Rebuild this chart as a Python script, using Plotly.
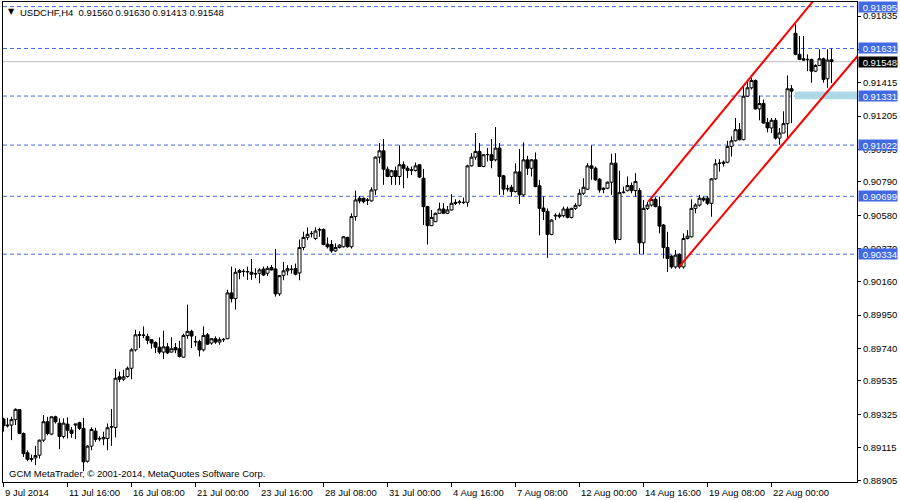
import plotly.graph_objects as go

# ---------------- data (USDCHF, H4) ----------------
opens = [0.89295,0.89257,0.89257,0.89291,0.89354,0.89204,0.89082,0.89046,0.89050,0.89067,
0.89162,0.89278,0.89200,0.89309,0.89269,0.89185,0.89263,0.89225,0.89257,0.89272,
0.89236,0.89029,0.89124,0.89219,0.89172,0.89170,0.89172,0.89244,0.89242,0.89561,
0.89546,0.89563,0.89615,0.89731,0.89826,0.89822,0.89816,0.89795,0.89778,0.89748,
0.89717,0.89750,0.89717,0.89746,0.89738,0.89685,0.89822,0.89848,0.89784,0.89784,
0.89731,0.89826,0.89774,0.89801,0.89780,0.89795,0.89801,0.90090,0.90054,0.90231,
0.90224,0.90222,0.90220,0.90212,0.90214,0.90241,0.90214,0.90250,0.90241,0.90084,
0.90201,0.90229,0.90237,0.90243,0.90216,0.90376,0.90440,0.90463,0.90433,0.90486,
0.90490,0.90397,0.90395,0.90355,0.90376,0.90381,0.90440,0.90381,0.90571,0.90687,
0.90687,0.90676,0.90670,0.90739,0.90946,0.90986,0.90870,0.90824,0.90860,0.90824,
0.90898,0.90876,0.90866,0.90862,0.90898,0.90813,0.90634,0.90514,0.90539,0.90592,
0.90619,0.90592,0.90613,0.90661,0.90661,0.90659,0.90661,0.90891,0.90946,0.90982,
0.90887,0.90961,0.90961,0.90929,0.91003,0.90828,0.90748,0.90756,0.90729,0.90853,
0.90708,0.90929,0.90876,0.90929,0.90765,0.90625,0.90604,0.90459,0.90575,0.90571,
0.90577,0.90619,0.90566,0.90623,0.90642,0.90718,0.90744,0.90891,0.90876,0.90807,
0.90750,0.90750,0.90788,0.90908,0.90427,0.90722,0.90735,0.90767,0.90735,0.90735,
0.90406,0.90623,0.90644,0.90680,0.90634,0.90518,0.90376,0.90322,0.90254,0.90334,
0.90254,0.90433,0.90444,0.90623,0.90644,0.90687,0.90687,0.90655,0.90809,0.90906,
0.90914,0.90914,0.91014,0.91049,0.91119,0.91056,0.91330,0.91383,0.91429,0.91250,
0.91284,0.91165,0.91130,0.91178,0.91066,0.91098,0.91157,0.91377,0.91727,0.91594,
0.91566,0.91560,0.91562,0.91488,0.91524,0.91566,0.91440,0.91560]
highs = [0.89303,0.89303,0.89309,0.89362,0.89358,0.89210,0.89098,0.89071,0.89126,0.89165,
0.89320,0.89309,0.89312,0.89316,0.89299,0.89299,0.89305,0.89244,0.89265,0.89278,
0.89303,0.89130,0.89242,0.89240,0.89187,0.89215,0.89267,0.89358,0.89611,0.89594,
0.89605,0.89626,0.89742,0.89858,0.89848,0.89879,0.89833,0.89797,0.89784,0.89810,
0.89852,0.89774,0.89810,0.89774,0.89788,0.89833,0.90016,0.89858,0.89818,0.89795,
0.89879,0.89837,0.89805,0.89816,0.89810,0.89805,0.90110,0.90256,0.90245,0.90241,
0.90241,0.90256,0.90304,0.90245,0.90245,0.90256,0.90260,0.90266,0.90367,0.90203,
0.90286,0.90265,0.90265,0.90275,0.90427,0.90476,0.90503,0.90480,0.90503,0.90501,
0.90497,0.90440,0.90423,0.90402,0.90397,0.90448,0.90444,0.90592,0.90735,0.90701,
0.90691,0.90687,0.90756,0.90950,0.91035,0.91060,0.90887,0.90866,0.90887,0.91020,
0.90919,0.90891,0.90887,0.90912,0.90902,0.90872,0.90638,0.90613,0.90596,0.90659,
0.90655,0.90638,0.90712,0.90680,0.90676,0.90691,0.90898,0.90971,0.91098,0.91035,
0.90965,0.91003,0.91060,0.91136,0.91035,0.90834,0.90771,0.90771,0.90908,0.90997,
0.91039,0.90954,0.90933,0.90976,0.90803,0.90697,0.90623,0.90554,0.90592,0.90596,
0.90634,0.90634,0.90627,0.90655,0.90744,0.90813,0.90908,0.91020,0.90887,0.90813,
0.90756,0.90792,0.90967,0.90971,0.90860,0.90760,0.90824,0.90786,0.90845,0.90750,
0.90676,0.90665,0.90697,0.90693,0.90697,0.90524,0.90475,0.90328,0.90360,0.90338,
0.90465,0.90486,0.90680,0.90655,0.90708,0.90697,0.90701,0.90813,0.90933,0.90933,
0.90925,0.91049,0.91077,0.91193,0.91161,0.91389,0.91425,0.91446,0.91436,0.91334,
0.91309,0.91193,0.91193,0.91193,0.91130,0.91235,0.91461,0.91400,0.91784,0.91710,
0.91710,0.91594,0.91566,0.91531,0.91626,0.91573,0.91626,0.91630]
lows = [0.89215,0.89242,0.89162,0.89257,0.89200,0.89056,0.89029,0.89025,0.89004,0.89046,
0.89151,0.89193,0.89193,0.89267,0.89105,0.89172,0.89172,0.89177,0.89168,0.89225,
0.88966,0.89020,0.89098,0.89151,0.89155,0.89130,0.89098,0.89126,0.89179,0.89527,
0.89535,0.89556,0.89546,0.89721,0.89742,0.89805,0.89767,0.89738,0.89710,0.89704,
0.89674,0.89704,0.89715,0.89710,0.89683,0.89683,0.89801,0.89742,0.89753,0.89689,
0.89721,0.89763,0.89763,0.89769,0.89763,0.89780,0.89799,0.90030,0.89985,0.90176,
0.90193,0.90172,0.90172,0.90183,0.90151,0.90197,0.90197,0.90231,0.90067,0.90071,
0.90170,0.90201,0.90212,0.90201,0.90170,0.90359,0.90423,0.90440,0.90423,0.90444,
0.90391,0.90370,0.90343,0.90349,0.90370,0.90376,0.90376,0.90370,0.90545,0.90655,
0.90655,0.90644,0.90665,0.90708,0.90908,0.90771,0.90820,0.90771,0.90771,0.90771,
0.90750,0.90813,0.90834,0.90855,0.90813,0.90518,0.90395,0.90511,0.90537,0.90590,
0.90587,0.90587,0.90609,0.90644,0.90648,0.90651,0.90634,0.90887,0.90929,0.90885,
0.90883,0.90919,0.90876,0.90919,0.90708,0.90708,0.90729,0.90697,0.90722,0.90651,
0.90697,0.90834,0.90824,0.90756,0.90454,0.90549,0.90311,0.90454,0.90549,0.90560,
0.90566,0.90560,0.90560,0.90613,0.90634,0.90708,0.90739,0.90803,0.90798,0.90722,
0.90718,0.90744,0.90708,0.90402,0.90423,0.90718,0.90729,0.90718,0.90697,0.90334,
0.90334,0.90613,0.90634,0.90630,0.90465,0.90307,0.90222,0.90243,0.90243,0.90243,
0.90243,0.90427,0.90440,0.90592,0.90634,0.90665,0.90644,0.90570,0.90803,0.90855,
0.90887,0.90908,0.90950,0.91045,0.91052,0.91052,0.91326,0.91372,0.91246,0.91178,
0.91157,0.91102,0.91098,0.91056,0.91024,0.91098,0.91056,0.91160,0.91588,0.91558,
0.91552,0.91488,0.91415,0.91482,0.91520,0.91415,0.91383,0.91413]
closes = [0.89253,0.89253,0.89291,0.89356,0.89204,0.89077,0.89041,0.89041,0.89065,0.89162,
0.89278,0.89204,0.89309,0.89278,0.89185,0.89269,0.89225,0.89204,0.89263,0.89236,
0.89025,0.89124,0.89229,0.89166,0.89170,0.89179,0.89240,0.89246,0.89552,0.89546,
0.89561,0.89615,0.89731,0.89826,0.89824,0.89824,0.89791,0.89774,0.89748,0.89717,
0.89750,0.89712,0.89738,0.89731,0.89689,0.89822,0.89848,0.89818,0.89782,0.89731,
0.89822,0.89767,0.89801,0.89780,0.89795,0.89797,0.90090,0.90054,0.90220,0.90220,
0.90226,0.90225,0.90208,0.90210,0.90235,0.90203,0.90245,0.90235,0.90084,0.90199,
0.90229,0.90243,0.90239,0.90208,0.90376,0.90440,0.90459,0.90465,0.90480,0.90490,
0.90395,0.90381,0.90355,0.90376,0.90391,0.90444,0.90381,0.90571,0.90676,0.90670,
0.90665,0.90674,0.90739,0.90946,0.90986,0.90870,0.90824,0.90860,0.90824,0.90898,
0.90876,0.90862,0.90864,0.90891,0.90820,0.90634,0.90514,0.90566,0.90592,0.90619,
0.90592,0.90613,0.90655,0.90655,0.90663,0.90661,0.90891,0.90946,0.90982,0.90887,
0.90961,0.90963,0.90925,0.91003,0.90824,0.90744,0.90746,0.90729,0.90853,0.90708,
0.90929,0.90876,0.90929,0.90760,0.90623,0.90604,0.90459,0.90549,0.90579,0.90581,
0.90619,0.90566,0.90623,0.90642,0.90718,0.90756,0.90891,0.90876,0.90803,0.90739,
0.90744,0.90788,0.90908,0.90427,0.90722,0.90725,0.90767,0.90735,0.90792,0.90406,
0.90623,0.90644,0.90680,0.90634,0.90511,0.90376,0.90307,0.90254,0.90328,0.90254,
0.90433,0.90448,0.90623,0.90644,0.90687,0.90676,0.90655,0.90809,0.90904,0.90908,
0.90908,0.91014,0.91049,0.91119,0.91056,0.91330,0.91383,0.91429,0.91250,0.91284,
0.91161,0.91130,0.91178,0.91066,0.91098,0.91157,0.91377,0.91362,0.91594,0.91562,
0.91558,0.91562,0.91488,0.91524,0.91566,0.91436,0.91558,0.91548]
bars = list(range(len(closes)))

date_ticks = [0, 16, 32, 48, 64, 80, 96, 112, 128, 144, 160, 176, 192]
date_labels = ["9 Jul 2014", "11 Jul 16:00", "16 Jul 08:00", "21 Jul 00:00", "23 Jul 16:00",
               "28 Jul 08:00", "31 Jul 00:00", "4 Aug 16:00", "7 Aug 08:00", "12 Aug 00:00",
               "14 Aug 16:00", "19 Aug 08:00", "22 Aug 00:00"]
price_ticks = [0.91835, 0.91625, 0.91415, 0.91205, 0.90995, 0.90790, 0.90580, 0.90370,
               0.90160, 0.89950, 0.89740, 0.89535, 0.89325, 0.89115, 0.88905]
levels = [0.91895, 0.91631, 0.91331, 0.91022, 0.90699, 0.90334]
bid = 0.91548
zone_x = [197.9, 213.4]
zone_y = [0.91311, 0.91359]
upper_x = [161.2, 206.0]
upper_y = [0.90665, 0.92040]
lower_x = [168.95, 216.0]
lower_y = [0.90256, 0.91658]

FONT = "Liberation Sans, Arial, sans-serif"
FS = 9.5
BLUE = "#4169E1"

fig = go.Figure()
fig.add_trace(go.Candlestick(
    x=bars, open=opens, high=highs, low=lows, close=closes,
    increasing=dict(line=dict(color="black", width=1), fillcolor="white"),
    decreasing=dict(line=dict(color="black", width=1), fillcolor="black"),
    whiskerwidth=0, showlegend=False, hoverinfo="skip"))
fig.add_trace(go.Scatter(x=upper_x, y=upper_y, mode="lines",
                         line=dict(color="red", width=2), showlegend=False, hoverinfo="skip"))
fig.add_trace(go.Scatter(x=lower_x, y=lower_y, mode="lines",
                         line=dict(color="red", width=2), showlegend=False, hoverinfo="skip"))

shapes = []
for lv in levels:
    shapes.append(dict(type="line", xref="paper", x0=0, x1=1, yref="y", y0=lv, y1=lv,
                       line=dict(color=BLUE, width=1, dash="4px,3px"), layer="below"))
shapes.append(dict(type="line", xref="paper", x0=0, x1=1, yref="y", y0=bid, y1=bid,
                   line=dict(color="#C0C0C0", width=1), layer="below"))
shapes.append(dict(type="rect", xref="x", x0=zone_x[0], x1=zone_x[1], yref="y",
                   y0=zone_y[0], y1=zone_y[1], fillcolor="#ADD8E6",
                   line=dict(width=0), layer="below"))

annotations = []
for lv in levels:
    annotations.append(dict(xref="paper", x=1, xanchor="left", xshift=1, yref="y", y=lv,
                            yanchor="middle", text=f"{lv:.5f}", showarrow=False,
                            bgcolor=BLUE, font=dict(color="white", size=FS, family=FONT),
                            width=38, height=10, align="right", borderpad=0))
annotations.append(dict(xref="paper", x=1, xanchor="left", xshift=1, yref="y", y=bid,
                        yanchor="middle", text=f"{bid:.5f}", showarrow=False,
                        bgcolor="black", font=dict(color="white", size=FS, family=FONT),
                        width=38, height=10, align="right", borderpad=0))
for t, lab in zip(date_ticks, date_labels):
    annotations.append(dict(xref="x", x=t, xanchor="left", xshift=-1, yref="paper", y=0,
                            yanchor="top", yshift=-3, text=lab, showarrow=False,
                            font=dict(color="black", size=FS, family=FONT)))
annotations.append(dict(xref="paper", x=0, xanchor="left", xshift=3, yref="paper", y=1,
                        yanchor="top", yshift=-3, text="▼", showarrow=False,
                        font=dict(color="black", size=8, family="DejaVu Sans")))
annotations.append(dict(xref="paper", x=0, xanchor="left", xshift=15, yref="paper", y=1,
                        yanchor="top", yshift=-3,
                        text=f"USDCHF,H4  {opens[-1]:.5f} {highs[-1]:.5f} {lows[-1]:.5f} {closes[-1]:.5f}",
                        showarrow=False, font=dict(color="black", size=FS, family=FONT)))
annotations.append(dict(xref="paper", x=0, xanchor="left", xshift=4, yref="paper", y=0,
                        yanchor="bottom", yshift=1,
                        text="GCM MetaTrader, © 2001-2014, MetaQuotes Software Corp.",
                        showarrow=False, font=dict(color="black", size=FS, family=FONT)))

fig.update_layout(
    width=900, height=500, margin=dict(l=3, r=43, t=2, b=18),
    paper_bgcolor="white", plot_bgcolor="white",
    boxgap=0.25, boxgroupgap=0,
    shapes=shapes, annotations=annotations, showlegend=False,
    font=dict(family=FONT, size=FS, color="black"),
    xaxis=dict(range=[-0.125, 213.375], showgrid=False, zeroline=False,
               rangeslider=dict(visible=False), showline=True, linecolor="black",
               linewidth=1, mirror=True, tickvals=date_ticks, ticks="outside",
               ticklen=4, tickcolor="black", showticklabels=False),
    yaxis=dict(range=[0.88898, 0.91924], side="right", showgrid=False, zeroline=False,
               showline=True, linecolor="black", linewidth=1, mirror=True,
               tickvals=price_ticks, ticktext=[f"{v:.5f}" for v in price_ticks],
               ticks="outside", ticklen=3, tickcolor="black",
               tickfont=dict(size=FS, family=FONT, color="black")),
)
fig.write_html("out.html", config={"displayModeBar": False},
               post_script="document.body.style.margin='0';document.body.style.padding='0';")
